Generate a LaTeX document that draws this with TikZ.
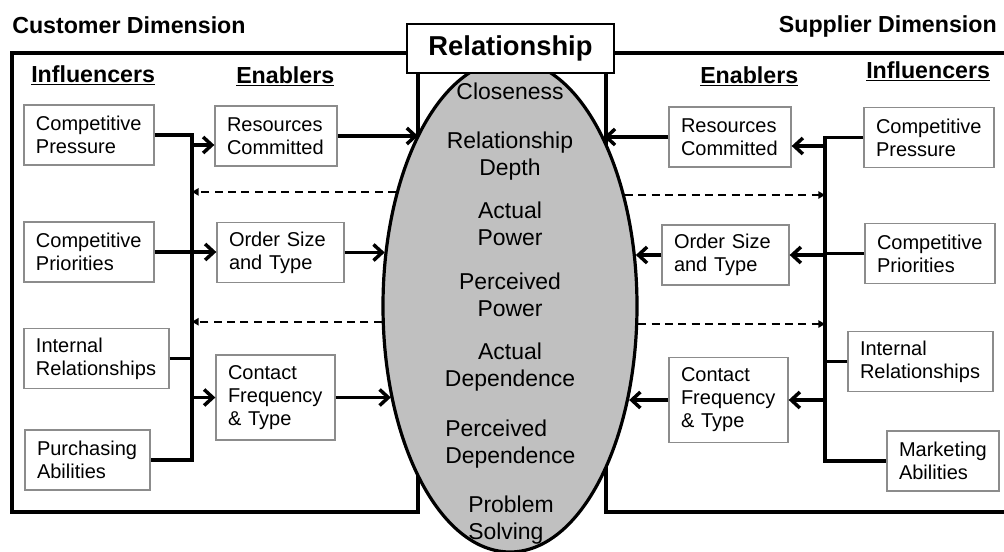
\documentclass[tikz,border=0pt]{standalone}
\usepackage{fontspec}
\setmainfont{Liberation Sans}
\usetikzlibrary{arrows.meta,shapes.geometric}

\definecolor{ellgray}{RGB}{192,192,192}
\definecolor{edgegray}{RGB}{140,140,140}

\tikzset{
  infobox/.style={draw=edgegray, line width=1pt, fill=white, align=left,
    inner xsep=9pt, inner ysep=0pt, minimum height=45pt, text width=#1,
    font=\fontsize{15}{17.25}\selectfont},
  headtext/.style={font=\fontsize{17.4}{20}\selectfont\bfseries, inner sep=0pt},
  dimframe/.style={line width=2.6pt},
  bus/.style={line width=2.6pt},
  conn/.style={line width=2.6pt, -{Straight Barb[length=6.5pt,width=12pt]}},
  dasharrow/.style={line width=1.6pt, dash pattern=on 6pt off 4pt, -{Triangle[length=5pt,width=5.5pt]}},
  ellword/.style={font=\fontsize{17.2}{20.6}\selectfont, align=center, inner sep=0pt, anchor=north}
}

\begin{document}
\begin{tikzpicture}[x=0.75pt, y=-0.75pt]
\useasboundingbox (0,0) rectangle (1004,551);

\draw[dimframe] (407,53) -- (12,53) -- (12,512) -- (418,512) -- (418,73);
\draw[dimframe] (614,53) -- (1004,53);
\draw[dimframe] (606,73) -- (606,512) -- (1004,512);

\node[headtext, anchor=base west] (custdim) at (12,33) {Customer Dimension};
\node[headtext, anchor=base east] (suppdim) at (997,32) {Supplier Dimension};
\node[headtext, anchor=base west] (linfl) at (31,82) {\underline{Influencers}};
\node[headtext, anchor=base west] (lenab) at (236,83) {\underline{Enablers}};
\node[headtext, anchor=base west] (renab) at (700,83) {\underline{Enablers}};
\node[headtext, anchor=base west] (rinfl) at (866,78) {\underline{Influencers}};

\node[ellipse, draw, line width=2.4pt, fill=ellgray, minimum width=190.5pt, minimum height=369pt, inner sep=0pt] (rel) at (510,306) {};
\node[draw, line width=1.2pt, fill=white, minimum width=155pt, minimum height=36.75pt, font=\fontsize{20.5}{24}\selectfont\bfseries] (relbox) at (510.5,48.5) {Relationship};

\node[ellword] (w1) at (510,82.5) {Closeness};
\node[ellword] (w2) at (510,131.5) {Relationship\\Depth};
\node[ellword] (w3) at (510,201.5) {Actual\\Power};
\node[ellword] (w4) at (510,272.5) {Perceived\\Power};
\node[ellword] (w5) at (510,342.5) {Actual\\Dependence};
\node[ellword, anchor=north west, align=left] (w6) at (445,419.5) {Perceived\\Dependence};
\node[ellword, anchor=north west, align=left] (w7) at (468,495.5) {Problem\\Solving};

\node[infobox=79.5pt] (lcp) at (89,135) {Competitive\\Pressure};
\node[infobox=79.5pt] (lpri) at (89,252) {Competitive\\Priorities};
\node[infobox=90.75pt] (lint) at (96.5,358.5) {Internal\\Relationships};
\node[infobox=75.75pt] (lpur) at (87.5,460) {Purchasing\\Abilities};
\node[infobox=73.5pt] (lres) at (276,136) {Resources\\Committed};
\node[infobox=77.25pt] (lord) at (280.5,252.5) {Order Size\\and Type};
\node[infobox=71.25pt, minimum height=63.75pt] (lcon) at (275.5,397.5) {Contact\\Frequency\\\& Type};

\node[infobox=73.5pt] (rres) at (730,137) {Resources\\Committed};
\node[infobox=77.25pt] (rord) at (725.5,255) {Order Size\\and Type};
\node[infobox=71.25pt, minimum height=63.75pt] (rcon) at (728.5,400) {Contact\\Frequency\\\& Type};
\node[infobox=79.5pt] (rcp) at (929,137.5) {Competitive\\Pressure};
\node[infobox=79.5pt] (rpri) at (930,253.5) {Competitive\\Priorities};
\node[infobox=90.75pt] (rint) at (920.5,361.5) {Internal\\Relationships};
\node[infobox=66pt] (rmar) at (943,461) {Marketing\\Abilities};

\coordinate (lbus) at (192,0);
\coordinate (rbus) at (825,0);
\coordinate (lresin) at ([yshift=-6.75pt]lres.west);
\coordinate (rresin) at ([yshift=-6.75pt]rres.east);

\draw[bus] (lcp.east) -- (lcp.east -| lbus) -- (lpur.east -| lbus) -- (lpur.east);
\draw[bus] (lint.east) -- (lint.east -| lbus);
\draw[conn] (lresin -| lbus) -- (lresin);
\draw[conn] (lpri.east) -- (lpri.east -| lord.west);
\draw[conn] (lcon.west -| lbus) -- (lcon.west);
\draw[conn] (lres.east) -- (lres.east -| rel.118.4);
\draw[conn] (lord.east) -- (lord.east -| rel.156.5);
\draw[conn] (lcon.east) -- (lcon.east -| rel.218);
\draw[dasharrow] (rel.135.6) -- (rel.135.6 -| lbus);
\draw[dasharrow] (rel.187.6) -- (rel.187.6 -| lbus);

\draw[bus] (rcp.west) -- (rcp.west -| rbus) -- (rmar.west -| rbus) -- (rmar.west);
\draw[bus] (rint.west) -- (rint.west -| rbus);
\draw[bus] (rpri.west) -- (rpri.west -| rbus);
\draw[conn] (rresin -| rbus) -- (rresin);
\draw[conn] (rord.east -| rbus) -- (rord.east);
\draw[conn] (rcon.east -| rbus) -- (rcon.east);
\draw[conn] (rres.west) -- (rres.west -| rel.61.4);
\draw[conn] (rord.west) -- (rord.west -| rel.22.7);
\draw[conn] (rcon.west) -- (rcon.west -| rel.-38.7);
\draw[dasharrow] (rel.44.4) -- (rel.44.4 -| rbus);
\draw[dasharrow] (rel.-8.1) -- (rel.-8.1 -| rbus);
\end{tikzpicture}
\end{document}
